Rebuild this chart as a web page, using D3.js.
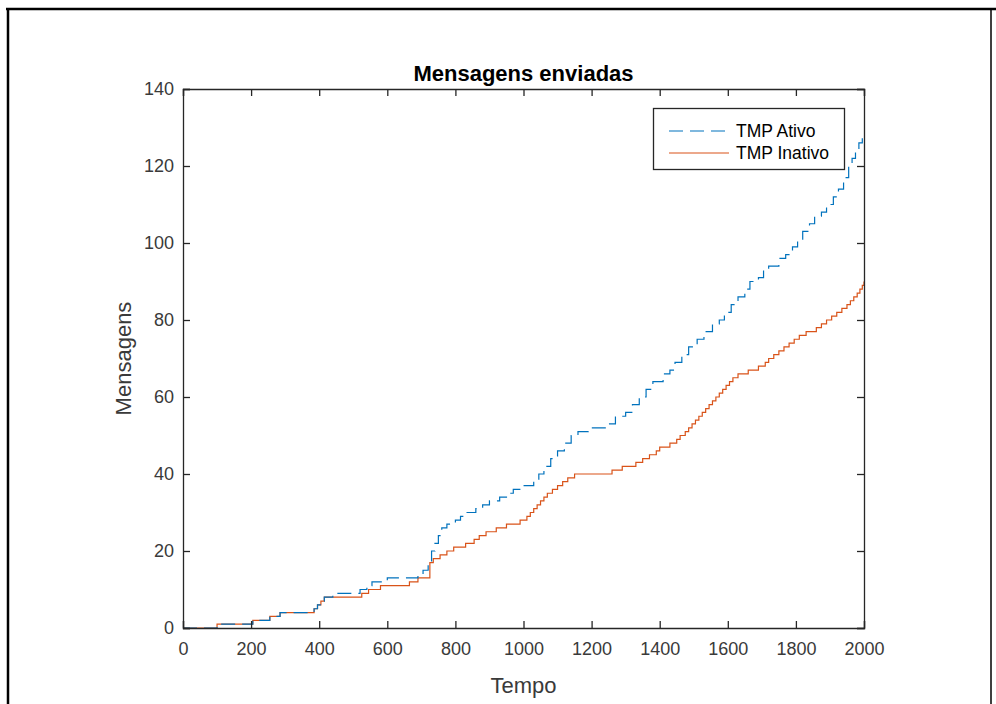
<!DOCTYPE html>
<html>
<head>
<meta charset="utf-8">
<script src="https://cdn.jsdelivr.net/npm/d3@7"></script>
<style>
  html, body { margin: 0; padding: 0; background: #fff; }
  svg { display: block; font-family: "Liberation Sans", Arial, Helvetica, sans-serif; }
</style>
</head>
<body>
<svg id="chart" width="996" height="704"></svg>
<script>
// ---- data (step change points) ----
const tempoAtivo = [0,100,205,255,285,385,395,405,415,440,520,540,555,600,690,705,720,730,740,750,760,775,800,815,830,860,880,900,930,950,970,1000,1030,1045,1060,1080,1100,1120,1140,1160,1190,1240,1270,1300,1320,1340,1360,1380,1410,1430,1445,1465,1485,1510,1530,1555,1575,1590,1610,1630,1650,1665,1690,1705,1720,1750,1770,1790,1805,1820,1840,1855,1875,1890,1910,1925,1940,1955,1965,1975,1985,1995,2000];
const msgAtivo   = [0,1,2,3,4,5,6,7,8,9,10,11,12,13,14,15,17,20,22,24,26,27,28,29,30,31,32,33,34,35,36,37,38,40,42,44,46,48,50,51,52,53,55,56,58,60,62,64,66,67,69,71,73,75,77,79,80,82,84,86,88,90,91,93,94,96,97,99,101,103,105,107,108,110,112,114,117,120,122,124,126,128,128];

const tempoInativo = [0,100,205,255,285,385,395,405,415,525,545,580,665,690,725,735,755,775,795,830,855,870,890,920,950,990,1010,1020,1030,1040,1050,1060,1070,1085,1100,1115,1130,1150,1260,1290,1330,1350,1370,1390,1400,1430,1450,1460,1475,1485,1495,1505,1515,1525,1535,1545,1555,1565,1575,1585,1595,1605,1615,1630,1660,1690,1710,1720,1735,1750,1765,1780,1795,1810,1830,1860,1875,1890,1905,1920,1935,1950,1960,1970,1980,1988,1995,2000];
const msgInativo   = [0,1,2,3,4,5,6,7,8,9,10,11,12,13,17,18,19,20,21,22,23,24,25,26,27,28,29,30,31,32,33,34,35,36,37,38,39,40,41,42,43,44,45,46,47,48,49,50,51,52,53,54,55,56,57,58,59,60,61,62,63,64,65,66,67,68,69,70,71,72,73,74,75,76,77,78,79,80,81,82,83,84,85,86,87,88,89,90];

const seriesNames = ["TMP Ativo", "TMP Inativo"];
const xTicks = [0,200,400,600,800,1000,1200,1400,1600,1800,2000];
const yTicks = [0,20,40,60,80,100,120,140];
const title = "Mensagens enviadas";
const xLabel = "Tempo";
const yLabel = "Mensagens";

// ---- layout ----
const svg = d3.select("#chart");
const L = 183, R = 864, T = 89, B = 628;
const axisColor = "#262626";
const tickColor = "#3a3a3a";
const colors = ["#0072BD", "#D95319"];
const dash = "14,7";

// outer frame
svg.append("line").attr("x1", 6).attr("x2", 996).attr("y1", 9).attr("y2", 9).attr("stroke", "#000").attr("stroke-width", 2.5);
svg.append("line").attr("x1", 8).attr("x2", 8).attr("y1", 8).attr("y2", 704).attr("stroke", "#000").attr("stroke-width", 2.5);
svg.append("line").attr("x1", 991).attr("x2", 991).attr("y1", 8).attr("y2", 704).attr("stroke", "#000").attr("stroke-width", 1.5);

const x = d3.scaleLinear().domain([0, 2000]).range([L, R]);
const y = d3.scaleLinear().domain([0, 140]).range([B, T]);

// data lines
const line = d3.line().x(d => x(d[0])).y(d => y(d[1])).curve(d3.curveStepAfter);
const dataA = tempoAtivo.map((t, i) => [t, msgAtivo[i]]);
const dataI = tempoInativo.map((t, i) => [t, msgInativo[i]]);

const plot = svg.append("g");
plot.append("path").datum(dataI).attr("d", line).attr("fill", "none")
  .attr("stroke", colors[1]).attr("stroke-width", 1.2);
plot.append("path").datum(dataA).attr("d", line).attr("fill", "none")
  .attr("stroke", colors[0]).attr("stroke-width", 1.2).attr("stroke-dasharray", dash);

// axes (ticks inward, box)
const tickLen = 7;
const fs = 18;
const gxB = svg.append("g").attr("transform", `translate(0,${B})`)
  .call(d3.axisBottom(x).tickValues(xTicks).tickSize(-tickLen).tickPadding(14).tickFormat(d3.format("d")));
const gxT = svg.append("g").attr("transform", `translate(0,${T})`)
  .call(d3.axisTop(x).tickValues(xTicks).tickSize(-tickLen).tickFormat(""));
const gyL = svg.append("g").attr("transform", `translate(${L},0)`)
  .call(d3.axisLeft(y).tickValues(yTicks).tickSize(-tickLen).tickPadding(9).tickFormat(d3.format("d")));
const gyR = svg.append("g").attr("transform", `translate(${R},0)`)
  .call(d3.axisRight(y).tickValues(yTicks).tickSize(-tickLen).tickFormat(""));

[gxB, gxT, gyL, gyR].forEach(g => {
  g.select(".domain").attr("stroke", axisColor).attr("stroke-width", 1.3);
  g.selectAll(".tick line").attr("stroke", axisColor).attr("stroke-width", 1.3);
  g.selectAll(".tick text").attr("fill", tickColor).attr("font-size", fs)
    .attr("font-family", '"Liberation Sans", Arial, sans-serif');
});

// title & labels
svg.append("text").attr("x", (L + R) / 2).attr("y", 81).attr("text-anchor", "middle")
  .attr("font-size", 22).attr("font-weight", "bold").attr("fill", "#000").text(title);
svg.append("text").attr("x", (L + R) / 2).attr("y", 693).attr("text-anchor", "middle")
  .attr("font-size", 22).attr("fill", tickColor).text(xLabel);
svg.append("text").attr("transform", `translate(131,${(T + B) / 2}) rotate(-90)`).attr("text-anchor", "middle")
  .attr("font-size", 22).attr("fill", tickColor).text(yLabel);

// legend
const lg = svg.append("g");
lg.append("rect").attr("x", 653.5).attr("y", 108.5).attr("width", 191).attr("height", 61)
  .attr("fill", "#fff").attr("stroke", axisColor).attr("stroke-width", 1.3);
seriesNames.forEach((name, i) => {
  const ly = 131 + i * 22;
  lg.append("line").attr("x1", 669).attr("x2", 729).attr("y1", ly).attr("y2", ly)
    .attr("stroke", colors[i]).attr("stroke-width", 1.2)
    .attr("stroke-dasharray", i === 0 ? dash : null);
  lg.append("text").attr("x", 736).attr("y", ly + 6).attr("font-size", 17.5)
    .attr("fill", "#000").text(name);
});
</script>
</body>
</html>
